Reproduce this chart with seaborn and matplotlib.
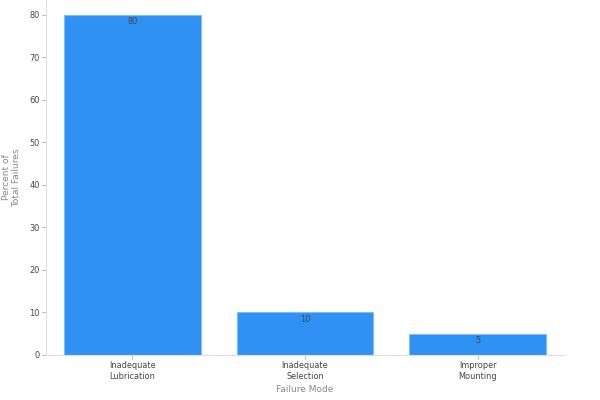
import matplotlib
matplotlib.use("Agg")
import matplotlib.pyplot as plt
import seaborn as sns
import pandas as pd

categories = ["Inadequate\nLubrication", "Inadequate\nSelection", "Improper\nMounting"]
values = [80, 10, 5]

sns.set_theme(style="ticks")
plt.rcParams['font.family'] = ['DejaVu Sans']

df = pd.DataFrame({"mode": categories, "pct": values})

fig = plt.figure(figsize=(6, 4), dpi=100)
ax = fig.add_axes([0.0767, 0.1125, 0.8633, 0.8875])
sns.barplot(data=df, x="mode", y="pct", color="#2f91f4", saturation=1,
            width=0.79, edgecolor="#7fbdf8", linewidth=0.8, ax=ax)
for p, v in zip(ax.patches, values):
    ax.text(p.get_x() + p.get_width() / 2, p.get_height() - 0.5, str(v),
            ha="center", va="top", fontsize=5.9, color="#444444")

ax.set_xlim(-0.5, 2.5)
ax.set_ylim(0, 83.5)
ax.set_yticks([0, 10, 20, 30, 40, 50, 60, 70, 80])
ax.set_xlabel("Failure Mode", fontsize=6.5, color="#888888", labelpad=3)
ax.set_ylabel("Percent of\nTotal Failures", fontsize=6.5, color="#888888")
ax.yaxis.set_label_coords(-0.048, 0.5)
ax.tick_params(axis="both", labelsize=5.9, colors="#444444", length=3, width=0.6, pad=1.5)
ax.tick_params(axis="both", color="#aaaaaa")
sns.despine(ax=ax)
for s in ["left", "bottom"]:
    ax.spines[s].set_color("#dddddd")
    ax.spines[s].set_linewidth(0.8)

fig.savefig("out.png", dpi=100)
